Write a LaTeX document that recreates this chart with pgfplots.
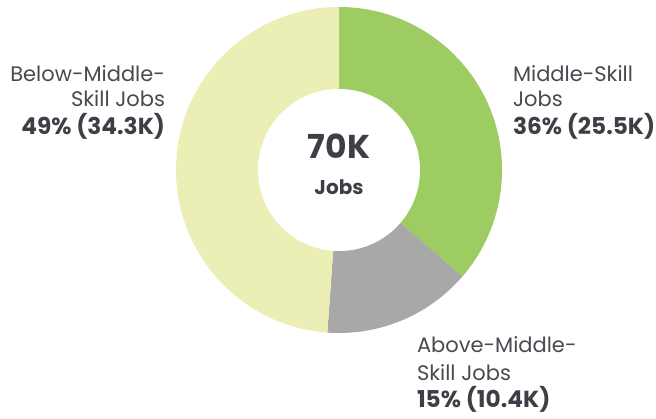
\documentclass[border=0pt]{standalone}
\usepackage{pgfplots}
\pgfplotsset{compat=1.18}
\usepackage{pgfplotstable}
\usepackage{fontspec}
\setmainfont{Poppins}
\definecolor{cgreen}{HTML}{9CCC62}
\definecolor{cgray}{HTML}{A8A8A8}
\definecolor{cpale}{HTML}{EBEFB5}
\definecolor{ctext}{HTML}{474B50}
\definecolor{cbold}{HTML}{3C4046}
\tikzset{reg/.style={inner sep=0pt,outer sep=0pt,font=\fontsize{10.5}{12}\selectfont,text=ctext},
         bld/.style={inner sep=0pt,outer sep=0pt,font=\fontsize{11.6}{14}\selectfont\bfseries,text=cbold}}
\pgfplotstableread{
name value
Middle 25.5
Above 10.4
Below 34.3
}\jobs
\pgfplotstablegetelem{0}{value}\of\jobs \let\va\pgfplotsretval
\pgfplotstablegetelem{1}{value}\of\jobs \let\vb\pgfplotsretval
\pgfplotstablegetelem{2}{value}\of\jobs \let\vc\pgfplotsretval
\pgfmathsetmacro\tot{\va+\vb+\vc}
\pgfmathsetmacro\aA{90}
\pgfmathsetmacro\aB{90-360*\va/\tot}
\pgfmathsetmacro\aC{\aB-360*\vb/\tot}
\pgfmathsetmacro\aD{\aC-360*\vc/\tot}
\begin{document}
\begin{tikzpicture}
\begin{axis}[name=ax,x=0.5pt,y=0.5pt,xmin=0,xmax=656,ymin=0,ymax=418,hide axis,clip=false]
\fill[cgreen] (axis cs:339,248) -- ++(\aA:81.5pt) arc[start angle=\aA,end angle=\aB,radius=81.5pt] -- cycle;
\fill[cgray] (axis cs:339,248) -- ++(\aB:81.5pt) arc[start angle=\aB,end angle=\aC,radius=81.5pt] -- cycle;
\fill[cpale] (axis cs:339,248) -- ++(\aC:81.5pt) arc[start angle=\aC,end angle=\aD,radius=81.5pt] -- cycle;
\fill[white] (axis cs:339,248) circle[radius=40.5pt];
% center
\node[bld,anchor=base,font=\fontsize{16.5}{18}\selectfont\bfseries] at (axis cs:339,260) {70K};
\node[bld,anchor=base,font=\fontsize{10}{12}\selectfont\bfseries] at (axis cs:339,224) {Jobs};
% left
\node[reg,anchor=base east] at (axis cs:165,336) {Below-Middle-};
\node[reg,anchor=base east] at (axis cs:165,311) {Skill Jobs};
\node[bld,anchor=base east] at (axis cs:165,284) {49\% (34.3K)};
% right
\node[reg,anchor=base west] at (axis cs:513,336) {Middle-Skill};
\node[reg,anchor=base west] at (axis cs:513,311) {Jobs};
\node[bld,anchor=base west] at (axis cs:513,284) {36\% (25.5K)};
% bottom
\node[reg,anchor=base west] at (axis cs:417,66) {Above-Middle-};
\node[reg,anchor=base west] at (axis cs:417,38) {Skill Jobs};
\node[bld,anchor=base west] at (axis cs:417,11) {15\% (10.4K)};
\end{axis}
\pgfresetboundingbox
\path[use as bounding box] (ax.south west) rectangle (ax.north east);
\end{tikzpicture}
\end{document}
